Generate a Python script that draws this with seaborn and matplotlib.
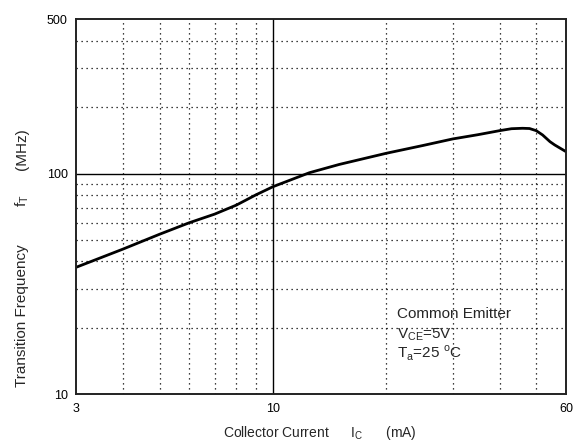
import matplotlib
matplotlib.use("Agg")
import matplotlib.pyplot as plt
from matplotlib.ticker import FixedLocator, NullFormatter, FixedFormatter
import seaborn as sns
import pandas as pd

# Data (Ic in mA, fT in MHz)
ic_ma = [3, 4, 5, 6, 7, 8, 9, 10, 12.5, 15, 20, 25, 30, 35, 40, 43, 46, 48, 50, 52, 54.4, 56, 60]
ft_mhz = [37.6, 45.5, 53.1, 59.9, 65.5, 72.0, 80.0, 87.2, 100.9, 110, 123.6, 134, 143.5, 150, 156.5, 159.7, 160.4, 160, 156.5, 149.6, 139.5, 134.8, 125.7]

x_ticks = [3, 10, 60]
y_ticks = [10, 100, 500]
x_minor = [4, 5, 6, 7, 8, 9, 20, 30, 40, 50]
y_minor = [20, 30, 40, 50, 60, 70, 80, 90, 200, 300, 400]

sns.set_style("white")
plt.rcParams['font.family'] = ['Liberation Sans', 'DejaVu Sans']
plt.rcParams['mathtext.fontset'] = 'custom'
plt.rcParams['mathtext.rm'] = 'Liberation Sans'

df = pd.DataFrame({"ic": ic_ma, "ft": ft_mhz})

fig = plt.figure(figsize=(5.75, 4.42), dpi=100)
ax = fig.add_axes([76/575, 1 - 394.3/442, 490/575, 375/442])

sns.lineplot(data=df, x="ic", y="ft", ax=ax, color="black", linewidth=2.0)
ax.set_xscale("log")
ax.set_yscale("log")
ax.set_xlim(3, 60)
ax.set_ylim(10, 500)

ax.xaxis.set_major_locator(FixedLocator(x_ticks))
ax.xaxis.set_major_formatter(FixedFormatter([str(v) for v in x_ticks]))
ax.yaxis.set_major_locator(FixedLocator(y_ticks))
ax.yaxis.set_major_formatter(FixedFormatter([str(v) for v in y_ticks]))
ax.xaxis.set_minor_locator(FixedLocator(x_minor))
ax.yaxis.set_minor_locator(FixedLocator(y_minor))
ax.xaxis.set_minor_formatter(NullFormatter())
ax.yaxis.set_minor_formatter(NullFormatter())
ax.tick_params(which="both", length=0, labelsize=9, colors="black", pad=6)

ax.grid(which="minor", color="black", linestyle=(0, (1, 3)), linewidth=0.9)
ax.grid(False, which="major")
ax.axvline(10, color="black", linewidth=1.0, zorder=1)
ax.axhline(100, color="black", linewidth=1.0, zorder=1)

for s in ax.spines.values():
    s.set_color("#222222")
    s.set_linewidth(1.4)

ax.set_xlabel("")
ax.set_ylabel("")
fig.text(320/575, 1 - 437/442, r"Collector Current      I$_\mathregular{C}$      (mA)",
         fontsize=10, ha="center", va="baseline")
fig.text(22/575, 1 - 316/442, "Transition Frequency", fontsize=11, rotation=90, ha="center", va="center")
fig.text(22/575, 1 - 201/442, r"f$_\mathregular{T}$", fontsize=11, rotation=90, ha="center", va="center")
fig.text(22/575, 1 - 149/442, "(MHz)", fontsize=11, rotation=90, ha="center", va="center")

ax.text(0.655, 0.2035, "Common Emitter", transform=ax.transAxes, fontsize=11, va="baseline")
ax.text(0.655, 0.150, r"V$_\mathregular{CE}$=5V", transform=ax.transAxes, fontsize=11, va="baseline")
ax.text(0.655, 0.097, r"T$_\mathregular{a}$=25 $^\mathregular{o}$C", transform=ax.transAxes, fontsize=11, va="baseline")

fig.savefig("out.png", dpi=100)
